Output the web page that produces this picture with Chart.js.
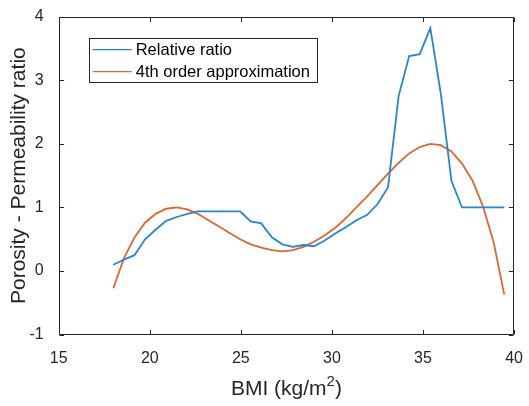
<!DOCTYPE html>
<html>
<head>
<meta charset="utf-8">
<script src="https://cdn.jsdelivr.net/npm/chart.js@4.4.0/dist/chart.umd.min.js"></script>
<style>
  body { margin: 0; background: #fff; }
</style>
</head>
<body>
<canvas id="chart" width="529" height="406"></canvas>
<script>
const bmi = [18.0, 18.58, 19.16, 19.74, 20.32, 20.9, 21.48, 22.06, 22.64, 23.22,
  23.8, 24.38, 24.96, 25.54, 26.12, 26.7, 27.28, 27.86, 28.44, 29.02,
  29.6, 30.18, 30.76, 31.34, 31.92, 32.5, 33.08, 33.66, 34.24, 34.82,
  35.4, 35.98, 36.56, 37.14, 37.72, 38.3, 38.88, 39.46];
const relativeRatio = [0.10, 0.18, 0.25, 0.50, 0.65, 0.79, 0.85, 0.90, 0.94, 0.94,
  0.94, 0.94, 0.94, 0.78, 0.75, 0.53, 0.42, 0.38, 0.41, 0.39,
  0.48, 0.59, 0.69, 0.80, 0.88, 1.05, 1.32, 2.75, 3.38, 3.41,
  3.82, 2.78, 1.42, 1.00, 1.00, 1.00, 1.00, 1.00];
const approximation = [-0.27, 0.20, 0.53, 0.76, 0.90, 0.98, 1.00, 0.97, 0.90, 0.80,
  0.70, 0.60, 0.50, 0.42, 0.37, 0.33, 0.31, 0.33, 0.38, 0.46,
  0.56, 0.68, 0.83, 1.00, 1.17, 1.35, 1.53, 1.70, 1.85, 1.95,
  2.00, 1.98, 1.88, 1.69, 1.42, 1.01, 0.45, -0.37];
const xTicks = [15, 20, 25, 30, 35, 40];
const yTicks = [-1, 0, 1, 2, 3, 4];
const seriesLabels = ['Relative ratio', '4th order approximation'];
const seriesColors = ['#2586cc', '#e0652e'];

const axisColor = '#262626';
const fontFamily = '"Liberation Sans", Arial, Helvetica, sans-serif';

function toPoints(xs, ys) {
  return xs.map((x, i) => ({ x: x, y: ys[i] }));
}

// MATLAB style box: all four sides, ticks pointing inward
const boxPlugin = {
  id: 'box',
  afterDatasetsDraw(chart) {
    const { ctx, chartArea: a, scales: { x, y } } = chart;
    const len = 4.6;
    const L = Math.round(a.left) + 0.5, R = Math.round(a.right) - 0.5;
    const T = Math.round(a.top) + 0.5, B = Math.round(a.bottom) - 0.5;
    ctx.save();
    ctx.strokeStyle = axisColor;
    ctx.lineWidth = 1;
    ctx.beginPath();
    ctx.rect(L, T, R - L, B - T);
    xTicks.forEach(v => {
      const px = Math.round(x.getPixelForValue(v)) + 0.5;
      ctx.moveTo(px, B); ctx.lineTo(px, B - len);
      ctx.moveTo(px, T); ctx.lineTo(px, T + len);
    });
    yTicks.forEach(v => {
      const py = Math.round(y.getPixelForValue(v)) + 0.5;
      ctx.moveTo(L, py); ctx.lineTo(L + len, py);
      ctx.moveTo(R, py); ctx.lineTo(R - len, py);
    });
    ctx.stroke();
    ctx.restore();
  }
};

// legend box inside the axes, top left
const legendPlugin = {
  id: 'insideLegend',
  afterDraw(chart) {
    const { ctx, chartArea: a } = chart;
    const left = a.left + 30, top = a.top + 21;
    const w = 228, h = 44;
    ctx.save();
    ctx.fillStyle = '#fff';
    ctx.fillRect(left, top, w, h);
    ctx.strokeStyle = axisColor;
    ctx.lineWidth = 1;
    ctx.strokeRect(Math.round(left) + 0.5, Math.round(top) + 0.5, w, h);
    ctx.font = '16.5px ' + fontFamily;
    ctx.textBaseline = 'middle';
    ctx.textAlign = 'left';
    chart.data.datasets.forEach((ds, i) => {
      const rowY = top + 12 + i * 22;
      ctx.strokeStyle = ds.borderColor;
      ctx.lineWidth = 1.2;
      ctx.beginPath();
      ctx.moveTo(left + 4, rowY);
      ctx.lineTo(left + 43, rowY);
      ctx.stroke();
      ctx.fillStyle = '#000';
      ctx.fillText(ds.label, left + 47, rowY + 1);
    });
    ctx.restore();
  }
};

// x axis title with a raised 2
const xTitlePlugin = {
  id: 'xTitle',
  afterDraw(chart) {
    const { ctx, chartArea: a } = chart;
    const main = '21px ' + fontFamily, sup = '15px ' + fontFamily;
    const parts = [['BMI (kg/m', main, 0], ['2', sup, -9], [')', main, 0]];
    ctx.save();
    ctx.fillStyle = axisColor;
    ctx.textBaseline = 'alphabetic';
    ctx.textAlign = 'left';
    let total = 0;
    parts.forEach(p => { ctx.font = p[1]; total += ctx.measureText(p[0]).width; });
    let cx = (a.left + a.right) / 2 - total / 2;
    parts.forEach(p => {
      ctx.font = p[1];
      ctx.fillText(p[0], cx, 395 + p[2]);
      cx += ctx.measureText(p[0]).width;
    });
    ctx.restore();
  }
};

const ctx = document.getElementById('chart').getContext('2d');
new Chart(ctx, {
  type: 'line',
  data: {
    datasets: [
      {
        label: seriesLabels[0],
        data: toPoints(bmi, relativeRatio),
        borderColor: seriesColors[0],
        borderWidth: 1.8,
        pointRadius: 0,
        tension: 0,
        fill: false
      },
      {
        label: seriesLabels[1],
        data: toPoints(bmi, approximation),
        borderColor: seriesColors[1],
        borderWidth: 1.8,
        pointRadius: 0,
        tension: 0,
        fill: false
      }
    ]
  },
  options: {
    responsive: false,
    animation: false,
    layout: { padding: { top: 10.7, right: 8.7, left: 0, bottom: 0 } },
    plugins: {
      legend: { display: false },
      tooltip: { enabled: false }
    },
    scales: {
      x: {
        type: 'linear',
        min: 15,
        max: 40,
        grid: { display: false },
        border: { display: false },
        afterBuildTicks: s => { s.ticks = xTicks.map(v => ({ value: v })); },
        afterFit: s => { s.height = 71.3; },
        ticks: {
          autoSkip: false,
          maxRotation: 0,
          padding: 6,
          color: axisColor,
          font: { family: fontFamily, size: 16 }
        }
      },
      y: {
        type: 'linear',
        min: -1,
        max: 4,
        grid: { display: false },
        border: { display: false },
        afterBuildTicks: s => { s.ticks = yTicks.map(v => ({ value: v })); },
        afterFit: s => { s.width = 58.7; },
        title: {
          display: true,
          text: 'Porosity - Permeability ratio',
          color: axisColor,
          padding: { top: 7, bottom: 0 },
          font: { family: fontFamily, size: 21 }
        },
        ticks: {
          padding: 7,
          color: axisColor,
          font: { family: fontFamily, size: 16 }
        }
      }
    }
  },
  plugins: [boxPlugin, legendPlugin, xTitlePlugin]
});
</script>
</body>
</html>
